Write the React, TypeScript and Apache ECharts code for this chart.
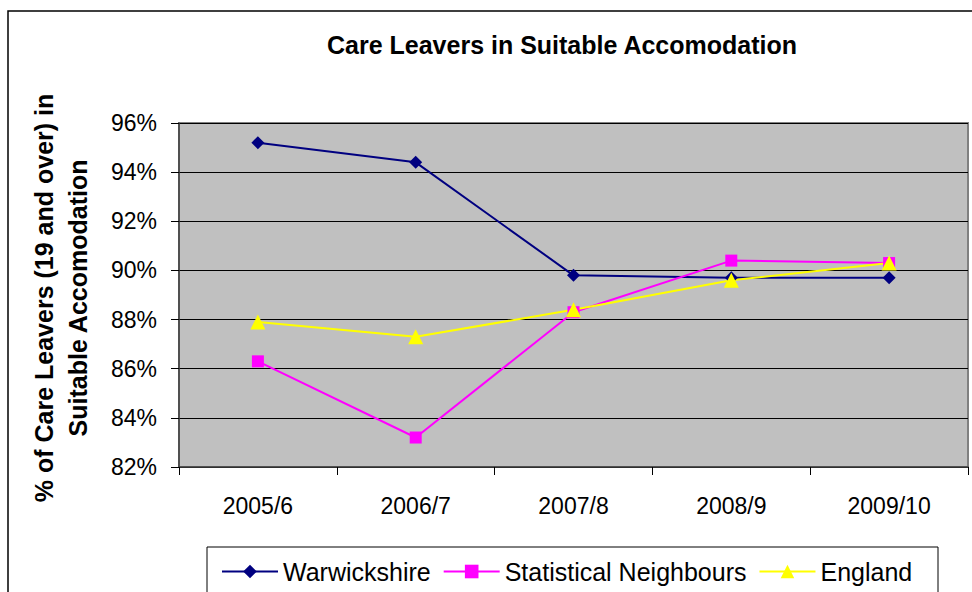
import React, { useEffect, useRef } from "react";
import * as echarts from "echarts";

const categories = ["2005/6", "2006/7", "2007/8", "2008/9", "2009/10"];
const warwickshire = [95.2, 94.4, 89.8, 89.7, 89.7];
const statisticalNeighbours = [86.3, 83.2, 88.3, 90.4, 90.3];
const england = [87.9, 87.3, 88.4, 89.6, 90.3];
const titleText = "Care Leavers in Suitable Accomodation";
const yAxisNameLines = ["% of Care Leavers (19 and over) in", "Suitable Accomodation"];

const FONT = '"Liberation Sans", Arial, sans-serif';

export default function App() {
  const ref = useRef<HTMLDivElement>(null);
  useEffect(() => {
    if (!ref.current) return;
    const chart = echarts.init(ref.current, null, { renderer: "svg" });
    chart.setOption({
      animation: false,
      backgroundColor: "#ffffff",
      textStyle: { fontFamily: FONT },
      grid: {
        left: 179,
        right: 4,
        top: 123,
        bottom: 125,
        show: true,
        backgroundColor: "#C0C0C0",
        borderColor: "#808080",
        borderWidth: 2,
      },
      xAxis: {
        type: "category",
        data: categories,
        boundaryGap: true,
        axisLine: { lineStyle: { color: "#404040", width: 1.5 } },
        axisTick: { show: true, length: 8, interval: 0, lineStyle: { color: "#000" } },
        axisLabel: { color: "#000", fontSize: 23, fontFamily: FONT, margin: 27, interval: 0 },
        splitLine: { show: false },
      },
      yAxis: {
        type: "value",
        min: 82,
        max: 96,
        interval: 2,
        axisLine: { show: true, lineStyle: { color: "#404040", width: 1.5 } },
        axisTick: { show: true, length: 8, lineStyle: { color: "#000" } },
        axisLabel: { color: "#000", fontSize: 23, fontFamily: FONT, margin: 22, formatter: "{value}%" },
        splitLine: { show: true, lineStyle: { color: "#000", width: 1 } },
      },
      legend: {
        left: 216,
        top: 554,
        itemWidth: 56,
        itemHeight: 17,
        itemGap: 12,
        textStyle: { color: "#000", fontSize: 25, fontFamily: FONT },
        data: ["Warwickshire", "Statistical Neighbours", "England"],
      },
      graphic: [
        {
          type: "rect",
          silent: true,
          shape: { x: 8, y: 11, width: 1000, height: 1000 },
          style: { fill: "none", stroke: "#000", lineWidth: 1.5 },
        },
        {
          type: "rect",
          silent: true,
          shape: { x: 207, y: 547, width: 731, height: 60 },
          style: { fill: "none", stroke: "#000", lineWidth: 1 },
        },
        {
          type: "text",
          x: 562,
          y: 45,
          style: {
            text: titleText,
            align: "center",
            verticalAlign: "middle",
            font: `bold 25px ${FONT}`,
            fill: "#000",
          },
        },
        {
          type: "text",
          x: 61,
          y: 298,
          rotation: Math.PI / 2,
          style: {
            text: yAxisNameLines.join("\n"),
            align: "center",
            verticalAlign: "middle",
            font: `bold 25px ${FONT}`,
            lineHeight: 34,
            fill: "#000",
          },
        },
      ],
      series: [
        {
          name: "Warwickshire",
          type: "line",
          data: warwickshire,
          symbol: "diamond",
          symbolSize: 13,
          itemStyle: { color: "#000080" },
          lineStyle: { color: "#000080", width: 2 },
        },
        {
          name: "Statistical Neighbours",
          type: "line",
          data: statisticalNeighbours,
          symbol: "rect",
          symbolSize: 12,
          itemStyle: { color: "#FF00FF" },
          lineStyle: { color: "#FF00FF", width: 2 },
        },
        {
          name: "England",
          type: "line",
          data: england,
          symbol: "triangle",
          symbolSize: 15,
          itemStyle: { color: "#FFFF00" },
          lineStyle: { color: "#FFFF00", width: 2 },
        },
      ],
    });
    return () => chart.dispose();
  }, []);
  return (
    <div
      ref={ref}
      style={{ position: "fixed", left: 0, top: 0, width: 972, height: 592 }}
    />
  );
}
